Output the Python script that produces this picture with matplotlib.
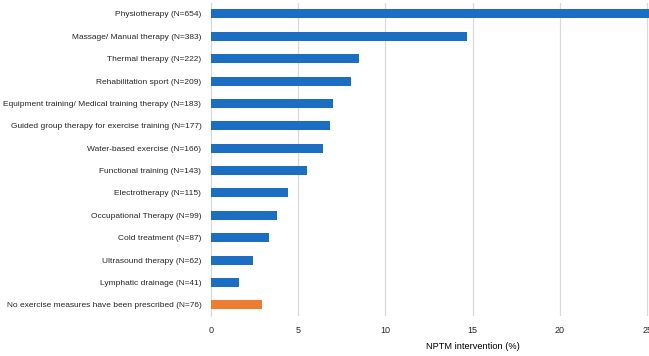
import numpy as np
import matplotlib
matplotlib.use('Agg')
import matplotlib.pyplot as plt

plt.rcParams['font.family'] = ['Liberation Sans', 'DejaVu Sans']

# categories, top to bottom
labels = ['Physiotherapy (N=654)',
          'Massage/ Manual therapy (N=383)',
          'Thermal therapy (N=222)',
          'Rehabilitation sport (N=209)',
          'Equipment training/ Medical training therapy (N=183)',
          'Guided group therapy for exercise training (N=177)',
          'Water-based exercise (N=166)',
          'Functional training (N=143)',
          'Electrotherapy (N=115)',
          'Occupational Therapy (N=99)',
          'Cold treatment (N=87)',
          'Ultrasound therapy (N=62)',
          'Lymphatic drainage (N=41)',
          'No exercise measures have been prescribed (N=76)']
# percent of patients
values = [25.2, 14.7, 8.5, 8.0, 7.0, 6.8, 6.4, 5.5, 4.4, 3.8, 3.3, 2.4, 1.6, 2.9]
colors = ['#1b6ec2'] * 13 + ['#ed7d31']

xticks = [0, 5, 10, 15, 20, 25, 30]

fig = plt.figure(figsize=(6.49, 3.56), dpi=100)
# axis goes further right than the picture (original image is cropped)
ax = fig.add_axes([0.3251, 0.1124, 0.8066, 0.880])

y = np.arange(len(labels))
ax.barh(y, values, height=0.4, color=colors, zorder=3)
ax.set_yticks(y)
ax.set_yticklabels(labels, fontsize=6)
ax.set_ylim(len(labels) - 0.5, -0.5)

ax.set_xlim(0, 30)
ax.set_xticks(xticks)
ax.set_xticklabels([str(t) for t in xticks], fontsize=6.5)
ax.set_xlabel('NPTM intervention (%)', fontsize=6.7, labelpad=5)

ax.grid(axis='x', color='#d9d9d9', linewidth=0.9, zorder=0)
for s in ['top', 'right', 'bottom']:
    ax.spines[s].set_visible(False)
ax.spines['left'].set_color('#d9d9d9')
ax.tick_params(axis='both', length=0, pad=7, colors='#262626')

fig.savefig('out.png', dpi=100)
